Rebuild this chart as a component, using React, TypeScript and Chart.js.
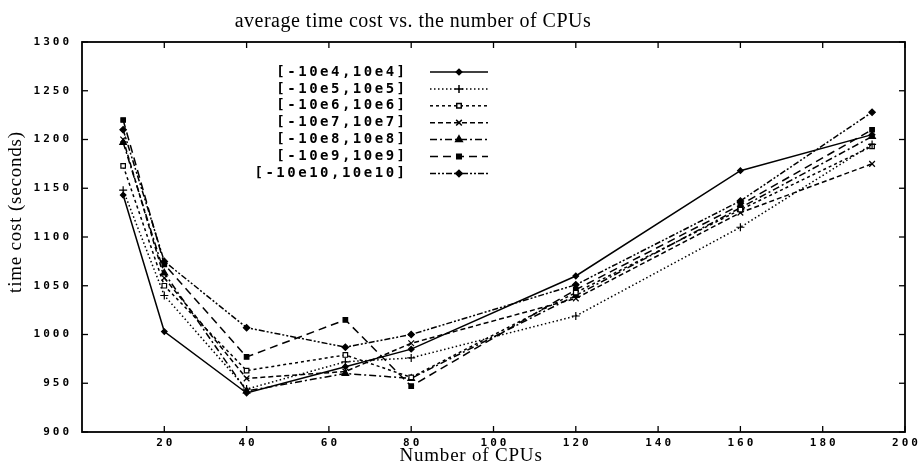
import React, { useEffect, useRef } from "react";
import { Chart, registerables } from "chart.js";
import { drawPoint } from "chart.js/helpers";

Chart.register(...registerables);

const cpus = [10, 20, 40, 64, 80, 120, 160, 192];
const seriesLabels = [
  "[-10e4,10e4]",
  "[-10e5,10e5]",
  "[-10e6,10e6]",
  "[-10e7,10e7]",
  "[-10e8,10e8]",
  "[-10e9,10e9]",
  "[-10e10,10e10]",
];
const s1 = [1143, 1003, 940, 967, 985, 1060, 1168, 1205];
const s2 = [1148, 1040, 944, 972, 976, 1019, 1110, 1195];
const s3 = [1173, 1050, 963, 979, 956, 1043, 1128, 1193];
const s4 = [1200, 1058, 955, 962, 991, 1037, 1125, 1175];
const s5 = [1197, 1063, 942, 960, 955, 1040, 1130, 1203];
const s6 = [1220, 1072, 977, 1015, 947, 1046, 1133, 1210];
const s7 = [1210, 1075, 1007, 987, 1000, 1051, 1137, 1228];
const seriesValues = [s1, s2, s3, s4, s5, s6, s7];

const xTickValues = [20, 40, 60, 80, 100, 120, 140, 160, 180, 200];
const yTickValues = [900, 950, 1000, 1050, 1100, 1150, 1200, 1250, 1300];

const titleText = "average time cost vs. the number of CPUs";
const xTitle = "Number of CPUs";
const yTitle = "time cost (seconds)";

const styles = [
  { dash: [], point: "rectRot", r: 2.8, fill: "#000" },
  { dash: [1.5, 2.5], point: "cross", r: 4, fill: "#000" },
  { dash: [3, 3], point: "rect", r: 3.2, fill: "#fff" },
  { dash: [5, 3], point: "crossRot", r: 4, fill: "#000" },
  { dash: [7, 3, 2, 3], point: "triangle", r: 3.8, fill: "#000" },
  { dash: [8, 5], point: "rect", r: 3.2, fill: "#000" },
  { dash: [6, 2, 2, 2, 2, 2], point: "rectRot", r: 3.2, fill: "#000" },
];

const overlay = {
  id: "overlay",
  afterDatasetsDraw(chart: any) {
    const ctx = chart.ctx;
    const { left, right, top, bottom } = chart.chartArea;
    const xs = chart.scales.x;
    const ys = chart.scales.y;
    const line = (a: number, b: number, c: number, d: number) => {
      ctx.beginPath();
      ctx.moveTo(a, b);
      ctx.lineTo(c, d);
      ctx.stroke();
    };
    ctx.save();
    ctx.strokeStyle = "#000";
    ctx.fillStyle = "#000";
    ctx.setLineDash([]);
    ctx.lineWidth = 1.8;
    ctx.strokeRect(left, top, right - left, bottom - top);
    ctx.lineWidth = 1.3;
    for (const v of yTickValues) {
      const y = ys.getPixelForValue(v);
      line(left, y, left + 6, y);
      line(right, y, right - 6, y);
    }
    for (const v of xTickValues) {
      const x = xs.getPixelForValue(v);
      line(x, bottom, x, bottom - 6);
      line(x, top, x, top + 6);
    }
    // tick labels
    ctx.font = "bold 11px 'DejaVu Sans Mono'";
    (ctx as any).letterSpacing = "3px";
    ctx.textBaseline = "middle";
    ctx.textAlign = "right";
    for (const v of yTickValues) {
      ctx.fillText(String(v), left - 13 + 3, ys.getPixelForValue(v));
    }
    ctx.textAlign = "center";
    for (const v of xTickValues) {
      ctx.fillText(String(v), xs.getPixelForValue(v) + 1.5, bottom + 11);
    }
    // legend
    ctx.font = "bold 14px 'DejaVu Sans Mono'";
    (ctx as any).letterSpacing = "2.5px";
    ctx.textAlign = "right";
    seriesLabels.forEach((lab, i) => {
      const y = 72 + i * 16.9;
      ctx.fillStyle = "#000";
      ctx.fillText(lab, 405 + 2.5, y);
      const st = styles[i];
      ctx.lineWidth = 1.5;
      ctx.setLineDash(st.dash);
      line(430, y, 488, y);
      ctx.setLineDash([]);
      ctx.fillStyle = st.fill;
      ctx.strokeStyle = "#000";
      drawPoint(ctx, { pointStyle: st.point as any, rotation: 0, radius: st.r, borderWidth: 1.2 }, 459, y);
    });
    // titles
    ctx.fillStyle = "#000";
    ctx.font = "20px 'Liberation Serif'";
    (ctx as any).letterSpacing = "0.5px";
    ctx.textAlign = "center";
    ctx.textBaseline = "alphabetic";
    ctx.fillText(titleText, 413, 27);
    ctx.font = "19px 'Liberation Serif'";
    (ctx as any).letterSpacing = "0.8px";
    ctx.fillText(xTitle, 471, 461);
    ctx.save();
    ctx.translate(21, 212);
    ctx.rotate(-Math.PI / 2);
    ctx.fillText(yTitle, 0, 0);
    ctx.restore();
    (ctx as any).letterSpacing = "0px";
    ctx.restore();
  },
};

export default function App() {
  const ref = useRef<HTMLCanvasElement | null>(null);
  useEffect(() => {
    if (!ref.current) return;
    const chart = new Chart(ref.current, {
      type: "line",
      data: {
        datasets: seriesValues.map((vals, i) => ({
          label: seriesLabels[i],
          data: vals.map((v, j) => ({ x: cpus[j], y: v })),
          borderColor: "#000",
          borderWidth: 1.5,
          borderDash: styles[i].dash,
          pointStyle: styles[i].point as any,
          pointRadius: styles[i].r,
          pointBackgroundColor: styles[i].fill,
          pointBorderColor: "#000",
          pointBorderWidth: 1.2,
          tension: 0,
          fill: false,
        })),
      },
      options: {
        animation: false,
        responsive: false,
        layout: { padding: { left: 82, right: 14, top: 42, bottom: 36 } },
        scales: {
          x: { type: "linear", min: 0, max: 200, display: false },
          y: { type: "linear", min: 900, max: 1300, display: false },
        },
        plugins: { legend: { display: false }, tooltip: { enabled: false }, title: { display: false } },
      },
      plugins: [overlay],
    });
    return () => chart.destroy();
  }, []);
  return (
    <div style={{ position: "fixed", left: 0, top: 0, width: 919, height: 468, background: "#fff" }}>
      <canvas ref={ref} width={919} height={468} style={{ display: "block" }} />
    </div>
  );
}
